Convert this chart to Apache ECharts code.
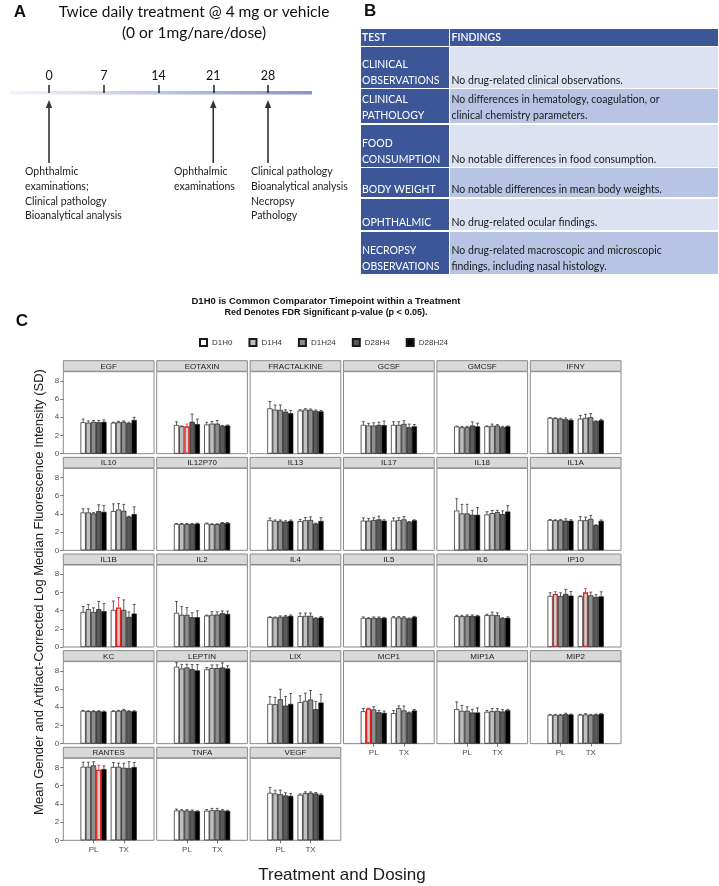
<!DOCTYPE html>
<html><head><meta charset="utf-8">
<script src="https://cdn.jsdelivr.net/npm/echarts@6/dist/echarts.min.js"></script>
<style>html,body{margin:0;padding:0;background:#fff}#c{width:719px;height:886px}</style>
</head><body><div id="c"></div>
<script>
// ---------- DATA ----------
const analytes = ['EGF','EOTAXIN','FRACTALKINE','GCSF','GMCSF','IFNY','IL10','IL12P70','IL13','IL17','IL18','IL1A','IL1B','IL2','IL4','IL5','IL6','IP10','KC','LEPTIN','LIX','MCP1','MIP1A','MIP2','RANTES','TNFA','VEGF'];
const timepoints = ['D1H0','D1H4','D1H24','D28H4','D28H24'];
const treatments = ['PL','TX'];
const yTicks = [0,2,4,6,8];
const meanPL = [
 [3.45,3.4,3.5,3.45,3.5],[3.15,3.0,3.0,3.5,3.25],[4.98,4.84,4.8,4.62,4.44],[3.16,3.09,3.09,3.16,3.13],[2.98,2.9,2.9,3.09,3.0],[3.93,3.89,3.85,3.78,3.71],
 [4.16,4.16,4.05,4.3,4.23],[2.9,2.9,2.9,2.9,2.94],[3.3,3.23,3.23,3.15,3.23],[3.26,3.26,3.33,3.4,3.26],[4.37,4.05,4.05,3.9,3.9],[3.33,3.3,3.3,3.26,3.26],
 [3.85,4.15,3.85,4.15,3.93],[3.75,3.53,3.53,3.27,3.27],[3.27,3.24,3.31,3.35,3.42],[3.2,3.16,3.2,3.2,3.2],[3.38,3.38,3.42,3.42,3.42],[5.6,5.82,5.6,5.82,5.64],
 [3.6,3.56,3.56,3.56,3.53],[8.44,8.25,8.36,8.18,8.04],[4.36,4.33,4.87,4.18,4.36],[3.56,3.85,3.75,3.45,3.38],[3.78,3.6,3.6,3.42,3.42],[3.16,3.16,3.16,3.24,3.2],
 [8.07,8.07,8.22,7.74,7.82],[3.27,3.27,3.27,3.23,3.19],[5.21,5.14,5.06,4.92,4.88]
];
const sdPL = [
 [0.35,0.2,0.15,0.2,0.2],[0.35,0.05,0.25,0.85,0.55],[0.75,0.5,0.55,0.2,0.3],[0.35,0.25,0.3,0.3,0.45],[0.05,0.1,0.1,0.4,0.35],[0.05,0.05,0.05,0.15,0.1],
 [0.4,0.4,0.1,0.7,0.7],[0.05,0.05,0.05,0.05,0.05],[0.25,0.1,0.1,0.1,0.1],[0.3,0.25,0.25,0.35,0.1],[1.3,1.0,1.0,0.5,0.8],[0.05,0.05,0.1,0.2,0.1],
 [0.6,0.5,0.45,0.85,0.85],[1.25,0.9,0.8,0.5,0.7],[0.05,0.05,0.1,0.1,0.1],[0.1,0.05,0.1,0.1,0.05],[0.1,0.1,0.1,0.1,0.05],[0.35,0.25,0.35,0.5,0.45],
 [0.05,0.05,0.05,0.05,0.05],[0.45,0.45,0.35,0.5,0.65],[0.8,0.75,1.1,1.0,1.15],[0.3,0.05,0.3,0.2,0.2],[0.8,0.6,0.45,0.35,0.5],[0.05,0.05,0.05,0.1,0.05],
 [0.5,0.5,0.4,0.5,0.35],[0.15,0.1,0.1,0.1,0.05],[0.6,0.35,0.45,0.3,0.25]
];
const meanTX = [
 [3.4,3.45,3.5,3.35,3.7],[3.2,3.3,3.3,3.05,3.1],[4.73,4.84,4.8,4.7,4.65],[3.16,3.16,3.27,2.9,3.0],[3.0,3.05,3.09,2.9,3.0],[3.85,3.93,4.0,3.56,3.67],
 [4.3,4.48,4.34,3.7,3.98],[2.94,2.87,2.87,3.0,3.0],[3.2,3.3,3.33,2.94,3.23],[3.26,3.33,3.4,3.12,3.3],[3.94,4.08,4.19,3.98,4.26],[3.3,3.3,3.44,2.76,3.23],
 [4.07,4.33,4.07,3.3,3.67],[3.45,3.53,3.56,3.7,3.64],[3.38,3.42,3.42,3.16,3.24],[3.24,3.24,3.24,3.13,3.31],[3.49,3.53,3.49,3.16,3.2],[5.56,6.0,5.67,5.5,5.56],
 [3.56,3.6,3.67,3.56,3.56],[8.15,8.29,8.29,8.36,8.25],[4.55,4.69,4.84,3.78,4.51],[3.35,3.89,3.64,3.42,3.64],[3.49,3.56,3.6,3.53,3.67],[3.16,3.2,3.16,3.2,3.27],
 [8.04,8.07,7.96,7.93,8.04],[3.23,3.3,3.3,3.27,3.23],[4.99,5.17,5.21,5.14,4.99]
];
const sdTX = [
 [0.05,0.1,0.1,0.1,0.3],[0.25,0.25,0.35,0.05,0.05],[0.1,0.1,0.1,0.1,0.1],[0.35,0.35,0.35,0.35,0.2],[0.05,0.2,0.1,0.1,0.05],[0.35,0.4,0.4,0.05,0.1],
 [0.8,0.65,0.7,0.05,0.8],[0.05,0.05,0.05,0.05,0.05],[0.2,0.3,0.35,0.05,0.35],[0.3,0.25,0.3,0.05,0.05],[0.3,0.3,0.2,0.35,0.65],[0.4,0.35,0.4,0.05,0.1],
 [0.98,1.1,1.1,0.55,1.0],[0.05,0.35,0.3,0.25,0.3],[0.35,0.3,0.3,0.05,0.1],[0.1,0.1,0.1,0.05,0.05],[0.1,0.3,0.25,0.05,0.1],[0.05,0.4,0.35,0.25,0.5],
 [0.05,0.05,0.1,0.05,0.05],[0.2,0.35,0.35,0.5,0.3],[0.7,0.85,1.0,0.85,0.9],[0.3,0.25,0.5,0.05,0.1],[0.15,0.3,0.25,0.2,0.1],[0.05,0.1,0.05,0.05,0.05],
 [0.5,0.4,0.5,0.7,0.5],[0.15,0.2,0.2,0.1,0.05],[0.1,0.15,0.1,0.1,0.1]
];
const significant = [['EOTAXIN','PL','D1H24'],['IL1B','TX','D1H4'],['IP10','PL','D1H4'],['IP10','TX','D1H4'],['MCP1','PL','D1H4'],['RANTES','PL','D28H4']];
// Panel A
const timelineDays = [0,7,14,21,28];
const eventDays = [0,21,28];
const eventLines = [
 ['Ophthalmic','examinations;','Clinical pathology','Bioanalytical analysis'],
 ['Ophthalmic','examinations'],
 ['Clinical pathology','Bioanalytical analysis','Necropsy','Pathology']
];
// Panel B
const tableHeader = ['TEST','FINDINGS'];
const tests = [['CLINICAL','OBSERVATIONS'],['CLINICAL','PATHOLOGY'],['FOOD','CONSUMPTION'],['BODY WEIGHT'],['OPHTHALMIC'],['NECROPSY','OBSERVATIONS']];
const findings = [['No drug-related clinical observations.'],['No differences in hematology, coagulation, or','clinical chemistry parameters.'],['No notable differences in food consumption.'],['No notable differences in mean body weights.'],['No drug-related ocular findings.'],['No drug-related macroscopic and microscopic','findings, including nasal histology.']];

// ---------- LAYOUT / STYLE ----------
const FC = '"Liberation Sans", Arial, sans-serif';
const FL = 'Lato, "Open Sans", sans-serif';
const NCOL = 6, PW = 90.7, PH = 82, STRIP = 10.5, X0 = 63.3, Y0 = 360.7, DX = 93.4, DY = 96.65;
const BAR_W = 5.2;
const fills = ['#ffffff','#c0c0c0','#8e8e8e','#5a5a5a','#000000'];
const SIGRED = '#e3201b';
const xCats = ['', 'PL', 'TX', ' '];

function isSig(a, t, tp) { return significant.some(s => s[0] === a && s[1] === t && s[2] === tp); }

const grids = [], xAxes = [], yAxes = [], series = [], gfx = [];

function renderErr(params, api) {
  const x = api.value(0), m = api.value(1), s = api.value(2), k = api.value(3), sig = api.value(4);
  const b = api.coord([x, m]), t = api.coord([x, m + s]);
  const cx = b[0] + (k - 2) * BAR_W;
  const col = sig ? SIGRED : '#333';
  return { type: 'group', children: [
    { type: 'line', shape: { x1: cx, y1: b[1], x2: cx, y2: t[1] }, style: { stroke: col, lineWidth: 0.8 } },
    { type: 'line', shape: { x1: cx - 1.4, y1: t[1], x2: cx + 1.4, y2: t[1] }, style: { stroke: col, lineWidth: 0.8 } }
  ]};
}

analytes.forEach((name, i) => {
  const r = Math.floor(i / NCOL), c = i % NCOL;
  const L = X0 + c * DX, T = Y0 + r * DY;
  const isBottom = i + NCOL >= analytes.length;
  const isLeft = c === 0;
  grids.push({ left: L, top: T + STRIP + 0.5, width: PW, height: PH, show: true, backgroundColor: '#fff', borderColor: '#8a8a8a', borderWidth: 1, containLabel: false });
  xAxes.push({ gridIndex: i, type: 'category', data: xCats, boundaryGap: false,
    axisLine: { show: false },
    axisTick: { show: isBottom, length: 3, interval: (idx) => idx === 1 || idx === 2, lineStyle: { color: '#555', width: 0.8 } },
    axisLabel: { show: isBottom, interval: (idx) => idx === 1 || idx === 2, fontSize: 8, color: '#4d4d4d', margin: 5, fontFamily: FC },
    splitLine: { show: false } });
  yAxes.push({ gridIndex: i, type: 'value', min: 0, max: 9, interval: 2,
    axisLine: { show: false },
    axisTick: { show: isLeft, length: 3, customValues: yTicks, lineStyle: { color: '#555', width: 0.8 } },
    axisLabel: { show: isLeft, customValues: yTicks, fontSize: 8, color: '#4d4d4d', margin: 4, fontFamily: FC },
    splitLine: { show: false } });
  timepoints.forEach((tp, k) => {
    const mk = (trt, v) => isSig(name, trt, tp)
      ? { value: v, itemStyle: { color: '#cfcfcf', borderColor: SIGRED, borderWidth: 1.3 } }
      : v;
    series.push({ type: 'bar', name: tp, xAxisIndex: i, yAxisIndex: i,
      data: ['-', mk('PL', meanPL[i][k]), mk('TX', meanTX[i][k]), '-'],
      barWidth: BAR_W, barGap: '0%',
      itemStyle: { color: fills[k], borderColor: '#1a1a1a', borderWidth: 0.7 },
      emphasis: { disabled: true }, silent: true });
  });
  const eb = [];
  timepoints.forEach((tp, k) => {
    eb.push([1, meanPL[i][k], sdPL[i][k], k, isSig(name, 'PL', tp) ? 1 : 0]);
    eb.push([2, meanTX[i][k], sdTX[i][k], k, isSig(name, 'TX', tp) ? 1 : 0]);
  });
  series.push({ type: 'custom', name: 'err' + i, xAxisIndex: i, yAxisIndex: i, data: eb, renderItem: renderErr,
    encode: { x: 0, y: 1 }, z: 5, silent: true });
  // strip
  gfx.push({ type: 'rect', shape: { x: L, y: T, width: PW, height: STRIP }, style: { fill: '#d9d9d9', stroke: '#8a8a8a', lineWidth: 1 } });
  gfx.push({ type: 'text', x: L + PW / 2, y: T + STRIP / 2 + 0.5, style: { text: name, fill: '#1a1a1a', font: '8px ' + FC, textAlign: 'center', textVerticalAlign: 'middle' } });
});

// ---------- PANEL A timeline (its own axis) ----------
const tlIndex = analytes.length;
// grid whose bottom edge is the timeline (y = 93)
grids.push({ left: 49, top: 40, width: 219, height: 53, show: false });
xAxes.push({ gridIndex: tlIndex, type: 'value', min: 0, max: 28, position: 'bottom',
  axisLine: { show: false }, splitLine: { show: false },
  axisTick: { show: true, inside: true, length: 8, customValues: timelineDays, lineStyle: { color: '#222', width: 1.5 } },
  axisLabel: { show: true, inside: true, customValues: timelineDays, margin: 11, fontSize: 12.5, color: '#111', fontFamily: FL } });
yAxes.push({ gridIndex: tlIndex, type: 'value', min: 0, max: 1, show: false });
series.push({ type: 'custom', name: 'events', xAxisIndex: tlIndex, yAxisIndex: tlIndex,
  data: eventDays.map(d => [d, 0]), silent: true, clip: false,
  renderItem: function (params, api) {
    const p = api.coord([api.value(0), 0]);
    const x = p[0], yTip = p[1] + 7, yTail = p[1] + 70;
    return { type: 'group', children: [
      { type: 'line', shape: { x1: x, y1: yTip + 6, x2: x, y2: yTail }, style: { stroke: '#333', lineWidth: 1.6 } },
      { type: 'polygon', shape: { points: [[x, yTip], [x - 3.2, yTip + 8], [x + 3.2, yTip + 8]] }, style: { fill: '#333' } }
    ]};
  } });

gfx.push({ type: 'rect', z: -5, shape: { x: 10, y: 91, width: 302, height: 3.6 },
  style: { fill: new echarts.graphic.LinearGradient(0, 0, 1, 0, [{ offset: 0, color: '#f4f5fb' }, { offset: 1, color: '#8a93c7' }]) } });
gfx.push({ type: 'text', x: 20, y: 12, style: { text: 'A', font: 'bold 17px ' + FC, fill: '#111', textAlign: 'center', textVerticalAlign: 'middle' } });
gfx.push({ type: 'text', x: 194, y: 12, style: { text: 'Twice daily treatment @ 4 mg or vehicle', font: '15.5px ' + FL, fill: '#111', textAlign: 'center', textVerticalAlign: 'middle' } });
gfx.push({ type: 'text', x: 194, y: 33, style: { text: '(0 or 1mg/nare/dose)', font: '15.5px ' + FL, fill: '#111', textAlign: 'center', textVerticalAlign: 'middle' } });
const evX = [25, 174, 251];
eventLines.forEach((lines, j) => {
  lines.forEach((t, n) => {
    gfx.push({ type: 'text', x: evX[j], y: 172 + n * 14.7, style: { text: t, font: '10.5px ' + FL, fill: '#222', textAlign: 'left', textVerticalAlign: 'middle' } });
  });
});

// ---------- PANEL B table ----------
const DARK = '#3d5698', LIGHT = '#dce2f1', MID = '#b7c4e4';
const TL = 361, TM = 449.5, TR = 718;
const rowTop = [47, 89, 125, 168, 199, 232], rowBot = [88, 123, 167, 197, 230, 274];
gfx.push({ type: 'text', x: 364, y: 11, style: { text: 'B', font: 'bold 17px ' + FC, fill: '#111', textAlign: 'left', textVerticalAlign: 'middle' } });
gfx.push({ type: 'rect', shape: { x: TL, y: 29, width: TR - TL, height: 17 }, style: { fill: DARK } });
gfx.push({ type: 'line', shape: { x1: TM, y1: 29, x2: TM, y2: 46 }, style: { stroke: '#ffffff', lineWidth: 1 } });
gfx.push({ type: 'text', x: TL + 1, y: 38, style: { text: tableHeader[0], font: '600 10.5px ' + FL, fill: '#fff', textVerticalAlign: 'middle' } });
gfx.push({ type: 'text', x: TM + 2, y: 38, style: { text: tableHeader[1], font: '600 10.5px ' + FL, fill: '#fff', textVerticalAlign: 'middle' } });
tests.forEach((tl, r) => {
  const y0 = rowTop[r], y1 = rowBot[r];
  gfx.push({ type: 'rect', shape: { x: TL, y: y0, width: TM - TL - 0.5, height: y1 - y0 }, style: { fill: DARK } });
  gfx.push({ type: 'rect', shape: { x: TM + 0.5, y: y0, width: TR - TM - 0.5, height: y1 - y0 }, style: { fill: r % 2 === 0 ? LIGHT : MID } });
  tl.forEach((t, n) => {
    gfx.push({ type: 'text', x: TL + 1, y: y1 - 7 - (tl.length - 1 - n) * 16, style: { text: t, font: '10.5px ' + FL, fill: '#fff', textVerticalAlign: 'middle' } });
  });
  const fl = findings[r];
  fl.forEach((t, n) => {
    gfx.push({ type: 'text', x: TM + 2, y: y1 - 7 - (fl.length - 1 - n) * 16, style: { text: t, font: '10.5px ' + FL, fill: '#1a1a1a', textVerticalAlign: 'middle' } });
  });
});

// ---------- PANEL C titles ----------
gfx.push({ type: 'text', x: 22, y: 321, style: { text: 'C', font: 'bold 17px ' + FC, fill: '#111', textAlign: 'center', textVerticalAlign: 'middle' } });
gfx.push({ type: 'text', x: 326, y: 301, style: { text: 'D1H0 is Common Comparator Timepoint within a Treatment', font: 'bold 9.5px ' + FC, fill: '#111', textAlign: 'center', textVerticalAlign: 'middle' } });
gfx.push({ type: 'text', x: 326, y: 313, style: { text: 'Red Denotes FDR Significant p-value (p < 0.05).', font: 'bold 9px ' + FC, fill: '#111', textAlign: 'center', textVerticalAlign: 'middle' } });
gfx.push({ type: 'text', x: 39, y: 592, rotation: Math.PI / 2, style: { text: 'Mean Gender and Artifact-Corrected Log Median Fluorescence Intensity (SD)', font: '13px ' + FC, fill: '#1a1a1a', textAlign: 'center', textVerticalAlign: 'middle' } });
gfx.push({ type: 'text', x: 342, y: 875, style: { text: 'Treatment and Dosing', font: '17px ' + FC, fill: '#1a1a1a', textAlign: 'center', textVerticalAlign: 'middle' } });

const chart = echarts.init(document.getElementById('c'));
chart.setOption({
  animation: false,
  backgroundColor: '#fff',
  legend: { data: timepoints, left: 194, top: 333, itemWidth: 7, itemHeight: 7, itemGap: 16, icon: 'rect', selectedMode: false,
    textStyle: { fontSize: 8, color: '#333', fontFamily: FC } },
  grid: grids, xAxis: xAxes, yAxis: yAxes, series: series,
  graphic: { elements: gfx }
});
</script></body></html>
